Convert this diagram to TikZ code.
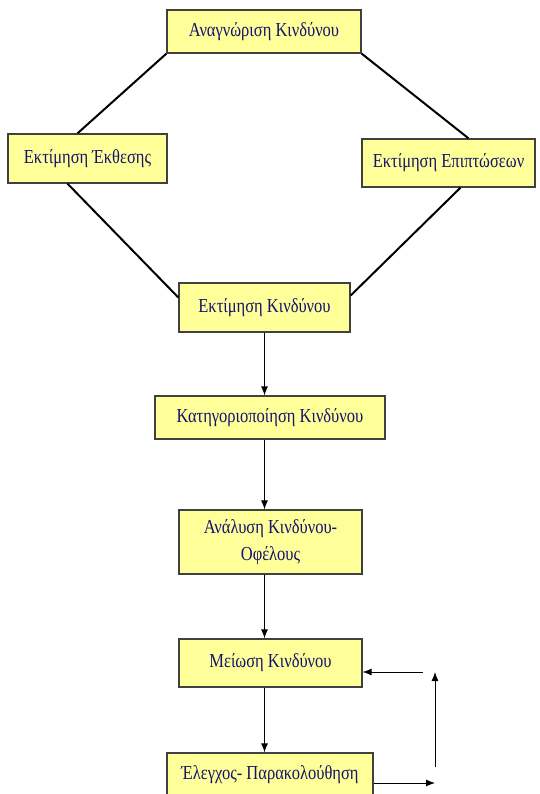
\documentclass[tikz,border=0pt]{standalone}
\usepackage{fontspec}
\usepackage{graphicx}
\setmainfont{Liberation Serif}
\usetikzlibrary{arrows.meta}
\definecolor{boxfill}{HTML}{FFFF99}
\definecolor{boxline}{HTML}{404040}
\definecolor{txt}{HTML}{14146E}
\newcommand\tx[1]{\scalebox{1}[1.2]{#1}}
\tikzset{
  box/.style={draw=boxline, line width=1.3pt, fill=boxfill, text=txt,
    font=\fontsize{16.5}{20}\selectfont, inner sep=0pt, align=center},
  thick line/.style={line width=2pt, black},
  flow/.style={line width=0.9pt, black, -{Latex[length=9pt,width=7pt]}}
}
\begin{document}
\begin{tikzpicture}[x=1pt,y=1pt]
\clip (0,0) rectangle (540,-794);
\fill[white] (0,0) rectangle (540,-794);
\node[box, minimum width=194pt, minimum height=43pt] (b1) at (264,-31.5) {\tx{Αναγνώριση Κινδύνου}};
\node[box, minimum width=159pt, minimum height=49pt] (b2) at (87.5,-158.5) {\tx{Εκτίμηση Έκθεσης}};
\node[box, minimum width=173pt, minimum height=48pt] (b3) at (448.5,-163) {\tx{Εκτίμηση Επιπτώσεων}};
\node[box, minimum width=171pt, minimum height=49pt] (b4) at (264.5,-307.5) {\tx{Εκτίμηση Κινδύνου}};
\node[box, minimum width=230pt, minimum height=43pt] (b5) at (270,-417.5) {\tx{Κατηγοριοποίηση Κινδύνου}};
\node[box, minimum width=183pt, minimum height=64pt] (b6) at (270.5,-542) {\tx{Ανάλυση Κινδύνου-}\\[7pt]\tx{Οφέλους}};
\node[box, minimum width=183pt, minimum height=48pt] (b7) at (270.5,-663) {\tx{Μείωση Κινδύνου}};
\node[box, minimum width=206pt, minimum height=44pt] (b8) at (270,-775) {\tx{Έλεγχος- Παρακολούθηση}};

\draw[thick line] (b1.south west) -- ([xshift=-10pt]b2.north);
\draw[thick line] (b1.south east) -- ([xshift=20pt]b3.north);
\draw[thick line] ([xshift=-20pt]b2.south) -- ([yshift=10pt]b4.west);
\draw[thick line] ([xshift=12pt]b3.south) -- ([yshift=12pt]b4.east);

\draw[flow] (b4.south) -- (b5.north -| b4.south);
\draw[flow] (b5.south -| b4.south) -- (b6.north -| b4.south);
\draw[flow] (b6.south -| b4.south) -- (b7.north -| b4.south);
\draw[flow] (b7.south -| b4.south) -- (b8.north -| b4.south);

\coordinate (r1) at (435,-783);
\coordinate (r2) at (435,-767);
\coordinate (r3) at (435,-672);
\coordinate (r4) at (423,-672);
\draw[flow] ([yshift=-8pt]b8.east) -- (r1);
\draw[flow] (r2) -- (r3);
\draw[flow] (r4) -- ([yshift=-9pt]b7.east);
\end{tikzpicture}
\end{document}
